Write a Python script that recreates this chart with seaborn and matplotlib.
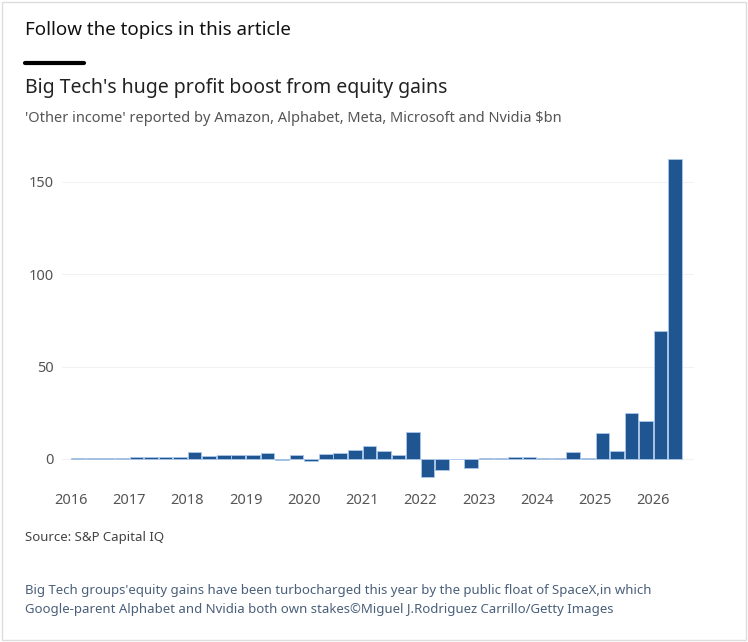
import seaborn as sns
import matplotlib.pyplot as plt
import pandas as pd

# Quarterly 'other income' $bn, 2016 Q1 - 2026 Q2
values = [0.3, 0.5, 0.5, 0.5, 1, 1, 1, 1.2,
          3.5, 1.5, 2, 2, 2, 3.2, -0.5, 2.2,
          -1, 2.6, 3.2, 4.6, 6.7, 4.1, 2.2, 14.5,
          -9.7, -6.3, -0.3, -4.8, 0.5, 0.5, 1, 1,
          0.5, 0.5, 3.5, 0.2, 13.8, 4.1, 25, 20.3,
          69, 162.5]
years = list(range(2016, 2027))

df = pd.DataFrame({"pos": [2016 + i / 4 + 0.125 for i in range(len(values))],
                   "value": values})

sns.set_style("white")
plt.rcParams['font.family'] = ['Noto Sans', 'DejaVu Sans']
fig = plt.figure(figsize=(7.48, 6.42), dpi=100)
ax = fig.add_axes([0.083, 0.245, 0.845, 0.535])

ax.bar(df["pos"], df["value"], width=0.235, color="#1f5591",
       edgecolor="#aac8ea", linewidth=0.6)
ax.set_xlim(2015.85, 2026.7)
ax.set_ylim(-14, 172)
ax.set_yticks([0, 50, 100, 150])
ax.set_xticks(years)
ax.set_xticklabels([str(y) for y in years])
ax.grid(axis="y", color="#f2f2f2", linewidth=0.8)
ax.tick_params(colors="#555555", labelsize=10.5, length=0, pad=6)
sns.despine(ax=ax, left=True, bottom=True)

fig.text(0.033, 0.945, "Follow the topics in this article", fontsize=13.5,
         fontweight="bold", color="#111111")
fig.add_artist(plt.Line2D([0.033, 0.112], [0.902, 0.902], color="black", linewidth=3))
fig.text(0.033, 0.855, "Big Tech's huge profit boost from equity gains", fontsize=14, color="#222222")
fig.text(0.033, 0.81, "'Other income' reported by Amazon, Alphabet, Meta, Microsoft and Nvidia $bn",
         fontsize=10.5, color="#555555")
fig.text(0.033, 0.157, "Source: S&P Capital IQ", fontsize=9.5, color="#444444")
fig.text(0.033, 0.075, "Big Tech groups'equity gains have been turbocharged this year by the public float of SpaceX,in which",
         fontsize=9.5, color="#4a5f7a")
fig.text(0.033, 0.045, "Google-parent Alphabet and Nvidia both own stakes\u00a9Miguel J.Rodriguez Carrillo/Getty Images",
         fontsize=9.5, color="#4a5f7a")
fig.add_artist(plt.Rectangle((0.003, 0.003), 0.994, 0.994, fill=False,
                             edgecolor="#dddddd", linewidth=1, transform=fig.transFigure))

plt.savefig("out.png", dpi=100)
